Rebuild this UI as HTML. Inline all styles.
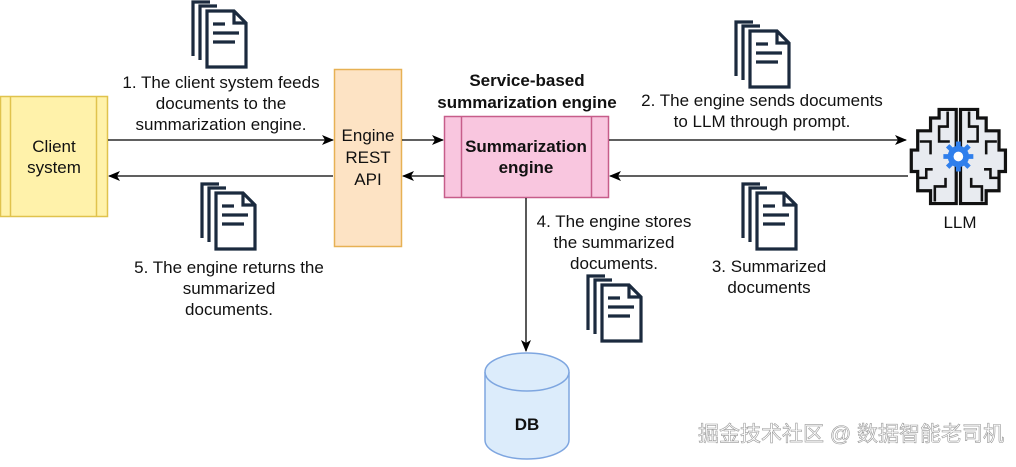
<!DOCTYPE html>
<html><head><meta charset="utf-8"><style>
body{margin:0;background:#fff;width:1016px;height:462px;overflow:hidden}
svg text{font-family:"Liberation Sans",Arial,sans-serif;font-size:17px;fill:#111}
</style></head><body>
<svg width="1016" height="462" viewBox="0 0 1016 462" xmlns="http://www.w3.org/2000/svg">
<defs>
<symbol id="doc" viewBox="0 0 58 70" width="58" height="70">
<g fill="none" stroke="#1b2a3e" stroke-width="3.2">
<path d="M3,56 V2 H20"/>
<path d="M10,60 V6 H27"/>
<path d="M17,11 H44 L56,23 V67 H17 Z" fill="#fff"/>
<path d="M44,11 V23 H56"/>
<path d="M23,24 H35 M23,33 H49 M23,42 H45"/>
</g>
</symbol>
<marker id="ar" markerWidth="12" markerHeight="10" refX="11" refY="5" orient="auto" markerUnits="userSpaceOnUse">
<path d="M0,0 L12,5 L0,10 L3,5 Z" fill="#000"/>
</marker>
</defs>

<use href="#doc" x="190" y="0"/>
<use href="#doc" x="733" y="20"/>
<use href="#doc" x="199" y="182"/>
<use href="#doc" x="740" y="182"/>
<use href="#doc" x="585" y="274"/>

<rect x="0.5" y="96.5" width="107" height="120" fill="#fff2aa" stroke="#e0c34d" stroke-width="1.5"/>
<line x1="10.5" y1="96" x2="10.5" y2="217" stroke="#e0c34d" stroke-width="1.5"/>
<line x1="96.5" y1="96" x2="96.5" y2="217" stroke="#e0c34d" stroke-width="1.5"/>
<text x="54" y="152" text-anchor="middle">Client</text>
<text x="54" y="173" text-anchor="middle">system</text>

<rect x="334.5" y="69.5" width="67" height="177" fill="#fde3c4" stroke="#e7b154" stroke-width="1.5"/>
<text x="368" y="141" text-anchor="middle">Engine</text>
<text x="368" y="163" text-anchor="middle">REST</text>
<text x="368" y="185" text-anchor="middle">API</text>

<text x="527" y="86" text-anchor="middle" font-weight="bold">Service-based</text>
<text x="527" y="108" text-anchor="middle" font-weight="bold">summarization engine</text>
<rect x="444.5" y="116.5" width="164" height="81" fill="#f9c6df" stroke="#c75d8a" stroke-width="1.5"/>
<line x1="461.5" y1="116" x2="461.5" y2="198" stroke="#c75d8a" stroke-width="1.5"/>
<line x1="591.5" y1="116" x2="591.5" y2="198" stroke="#c75d8a" stroke-width="1.5"/>
<text x="526" y="152" text-anchor="middle" font-weight="bold">Summarization</text>
<text x="526" y="173" text-anchor="middle" font-weight="bold">engine</text>

<g stroke="#000" stroke-width="1.3" fill="none">
<line x1="108" y1="140" x2="333" y2="140" marker-end="url(#ar)"/>
<line x1="333" y1="176" x2="109" y2="176" marker-end="url(#ar)"/>
<line x1="402" y1="140" x2="443" y2="140" marker-end="url(#ar)"/>
<line x1="444" y1="176" x2="403" y2="176" marker-end="url(#ar)"/>
<line x1="609" y1="140" x2="906" y2="140" marker-end="url(#ar)"/>
<line x1="908" y1="176" x2="610" y2="176" marker-end="url(#ar)"/>
<line x1="526" y1="198" x2="526" y2="351" marker-end="url(#ar)"/>
</g>

<text x="221" y="88" text-anchor="middle">1. The client system feeds</text>
<text x="221" y="109" text-anchor="middle">documents to the</text>
<text x="221" y="130" text-anchor="middle">summarization engine.</text>
<text x="762" y="106" text-anchor="middle">2. The engine sends documents</text>
<text x="762" y="127" text-anchor="middle">to LLM through prompt.</text>
<text x="614" y="227" text-anchor="middle">4. The engine stores</text>
<text x="614" y="248" text-anchor="middle">the summarized</text>
<text x="614" y="269" text-anchor="middle">documents.</text>
<text x="769" y="272" text-anchor="middle">3. Summarized</text>
<text x="769" y="293" text-anchor="middle">documents</text>
<text x="229" y="273" text-anchor="middle">5. The engine returns the</text>
<text x="229" y="294" text-anchor="middle">summarized</text>
<text x="229" y="315" text-anchor="middle">documents.</text>

<path d="M485,372 V440 A42,19 0 0 0 569,440 V372" fill="#dcecfb" stroke="#7ea6e0" stroke-width="1.5"/>
<ellipse cx="527" cy="372" rx="42" ry="19" fill="#dcecfb" stroke="#7ea6e0" stroke-width="1.5"/>
<text x="527" y="430" text-anchor="middle" font-weight="bold">DB</text>

<g transform="translate(907,103) scale(1.07)">
<path d="M46,6 H30 V14 H22 V26 H10 V44 H4 V64 H10 V82 H22 V94 H46 Z" fill="#e8ebf0" stroke="#111" stroke-width="3"/>
<path d="M50,6 H66 V14 H74 V26 H86 V44 H92 V64 H86 V82 H74 V94 H50 Z" fill="#e8ebf0" stroke="#111" stroke-width="3"/>
<g fill="none" stroke="#111" stroke-width="2.4">
<path d="M38,8 V22 H30 V36 H40"/><path d="M58,8 V22 H66 V36 H56"/>
<path d="M12,36 H22 V48"/><path d="M84,36 H74 V48"/>
<path d="M10,70 H18 V62 H24"/><path d="M86,70 H78 V62 H72"/>
<path d="M26,92 V78 H36 V70"/><path d="M70,92 V78 H60 V70"/>
</g>
<circle cx="48" cy="50" r="10" fill="#2f7fec"/>
<g stroke="#2f7fec" stroke-width="4.5"><line x1="48" y1="36" x2="48" y2="64"/><line x1="34" y1="50" x2="62" y2="50"/><line x1="38" y1="40" x2="58" y2="60"/><line x1="58" y1="40" x2="38" y2="60"/></g>
<circle cx="48" cy="50" r="4.5" fill="#fff"/>
</g>
<text x="960" y="228" text-anchor="middle">LLM</text>

<text x="1004" y="441" text-anchor="end" style="font-family:'Liberation Sans','Noto Sans CJK SC',sans-serif;font-size:21px;fill:#fff;stroke:#999;stroke-width:0.6">掘金技术社区 @ 数据智能老司机</text>
</svg>
</body></html>
